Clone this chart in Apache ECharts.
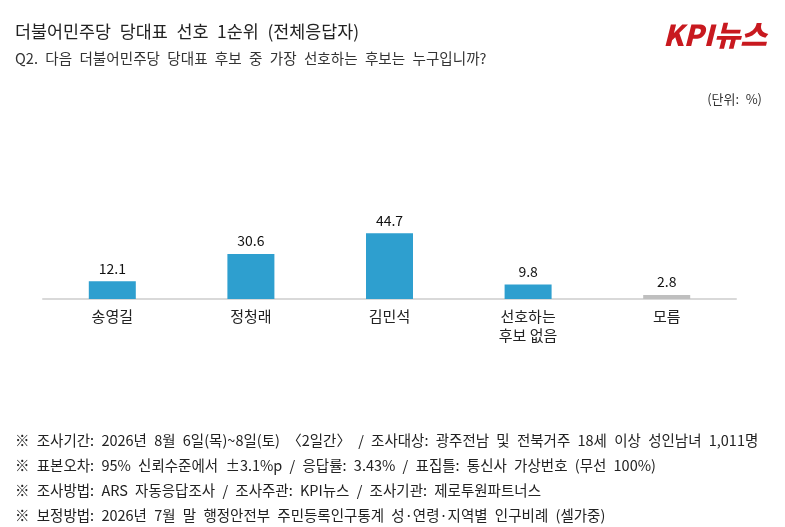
<!DOCTYPE html>
<html>
<head>
<meta charset="utf-8">
<script src="https://cdn.jsdelivr.net/npm/echarts@6/dist/echarts.min.js"></script>
<style>
  html, body { margin: 0; padding: 0; background: #fff; }
  #chart { width: 785px; height: 527px; }
</style>
</head>
<body>
<div id="chart"></div>
<script>
var categories = ['송영길', '정청래', '김민석', '선호하는\n후보 없음', '모름'];
var values = [12.1, 30.6, 44.7, 9.8, 2.8];
var barColors = ['#2e9fcf', '#2e9fcf', '#2e9fcf', '#2e9fcf', '#bfbfbf'];

var titleText = '더불어민주당 당대표 선호 1순위 (전체응답자)';
var questionText = 'Q2. 다음 더불어민주당 당대표 후보 중 가장 선호하는 후보는 누구입니까?';
var unitText = '(단위: %)';
var notes = [
    '※ 조사기간: 2026년 8월 6일(목)~8일(토) 〈2일간〉 / 조사대상: 광주전남 및 전북거주 18세 이상 성인남녀 1,011명',
    '※ 표본오차: 95% 신뢰수준에서 ±3.1%p / 응답률: 3.43% / 표집틀: 통신사 가상번호 (무선 100%)',
    '※ 조사방법: ARS 자동응답조사 / 조사주관: KPI뉴스 / 조사기관: 제로투원파트너스',
    '※ 보정방법: 2026년 7월 말 행정안전부 주민등록인구통계 성·연령·지역별 인구비례 (셀가중)'
];

var font = '"Noto Sans CJK KR", "Noto Sans", sans-serif';

// the source uses wide word gaps; draw spaces as en spaces
function wide(s) {
    return s.replace(/ /g, '\u2002');
}

var myChart = echarts.init(document.getElementById('chart'));

var titles = [
    { text: wide(titleText), left: 10, top: 18, textStyle: { fontFamily: font, fontSize: 17.4, fontWeight: 'normal', color: '#222' } },
    { text: wide(questionText), left: 10, top: 46, textStyle: { fontFamily: font, fontSize: 14.6, fontWeight: 'normal', color: '#333' } },
    { text: wide(unitText), right: 18, top: 88, textStyle: { fontFamily: font, fontSize: 13, fontWeight: 'normal', color: '#333' } },
    { text: 'KPI뉴스', right: 13, top: 15, textStyle: { fontFamily: font, fontSize: 29, fontWeight: 900, fontStyle: 'italic', color: '#c8191f' } }
];
notes.forEach(function (t, i) {
    titles.push({ text: wide(t), left: 10, top: 428 + i * 25, textStyle: { fontFamily: font, fontSize: 14.5, fontWeight: 'normal', color: '#222' } });
});

var option = {
    title: titles,
    grid: { left: 43, right: 49, top: 152, bottom: 228 },
    xAxis: {
        type: 'category',
        data: categories,
        axisLine: { lineStyle: { color: '#d9d9d9', width: 2 } },
        axisTick: { show: false },
        axisLabel: { fontFamily: font, fontSize: 15, color: '#222', lineHeight: 19, margin: 8 }
    },
    yAxis: {
        type: 'value',
        min: 0,
        max: 100,
        show: false,
        splitLine: { show: false }
    },
    series: [
        {
            type: 'bar',
            barWidth: 47,
            data: values.map(function (v, i) {
                return { value: v, itemStyle: { color: barColors[i] } };
            }),
            label: {
                show: true,
                position: 'top',
                distance: 6,
                fontFamily: font,
                fontSize: 14,
                color: '#111'
            }
        }
    ]
};

myChart.setOption(option);
</script>
</body>
</html>
